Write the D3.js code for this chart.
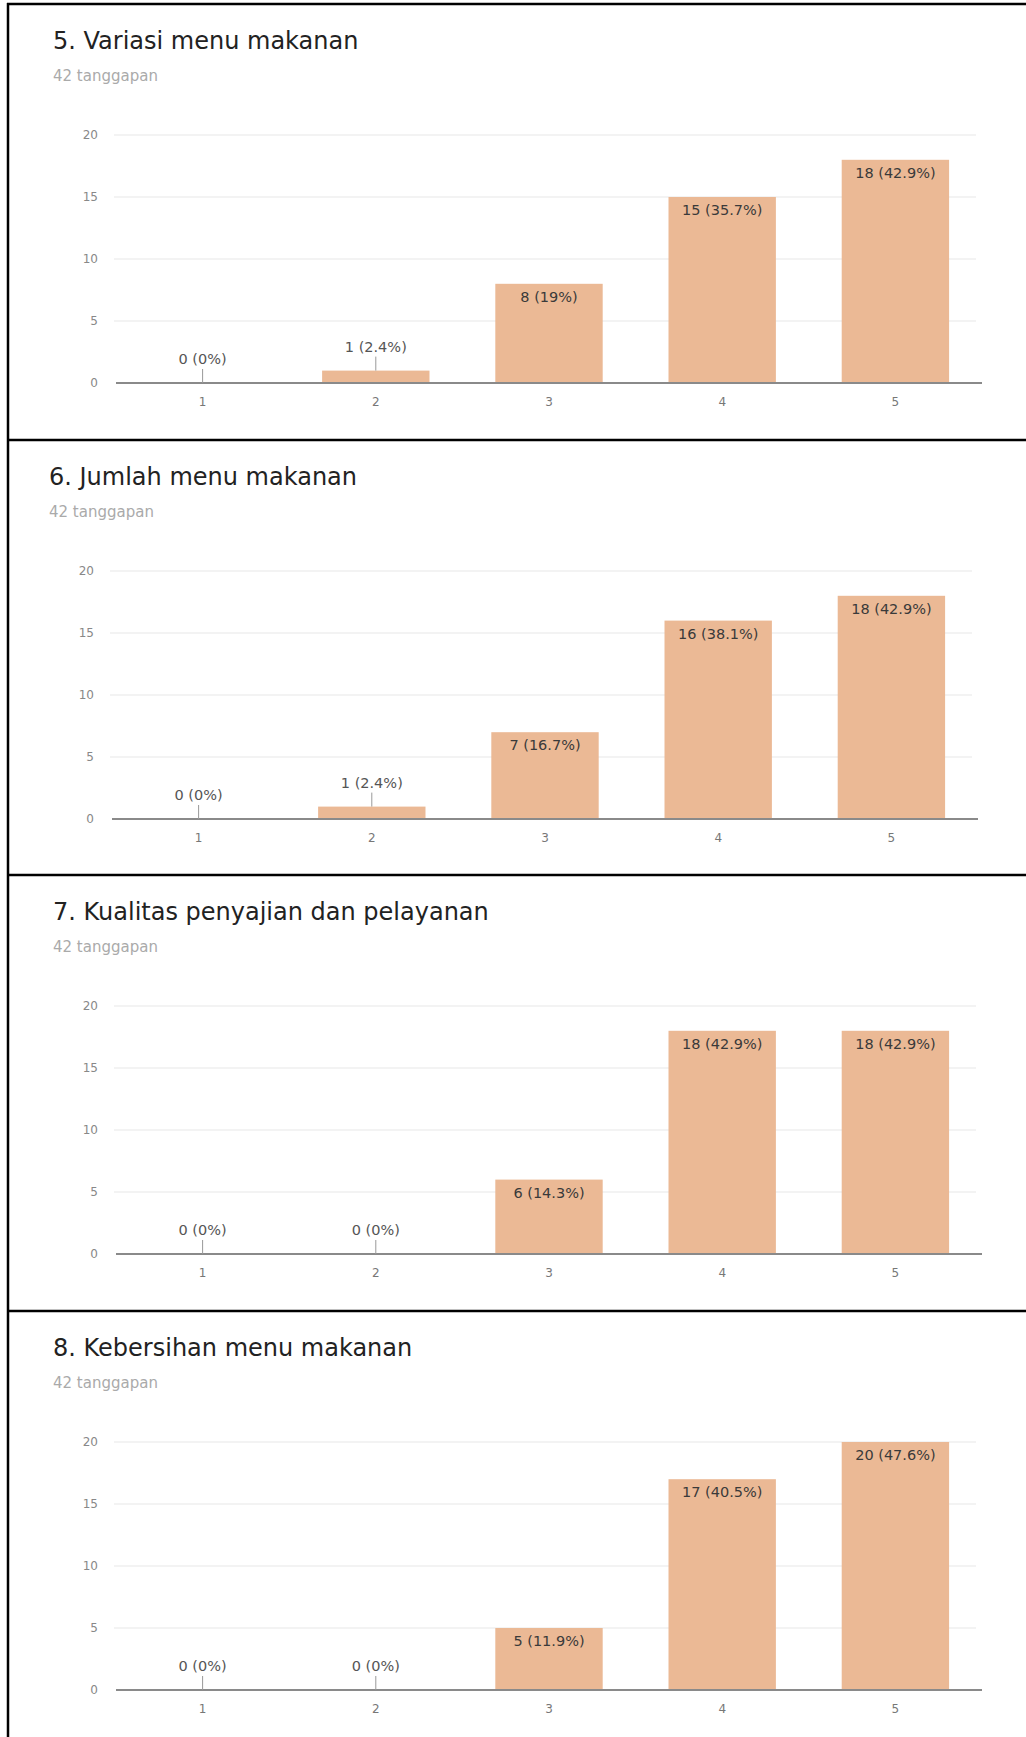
<!DOCTYPE html>
<html>
<head>
<meta charset="utf-8">
<script src="https://cdn.jsdelivr.net/npm/d3@7/dist/d3.min.js"></script>
<style>
  html, body { margin: 0; padding: 0; background: #fff; }
  svg { display: block; }
</style>
</head>
<body>
<svg id="chart" width="1026" height="1737"></svg>
<script>
// Survey questions, one bar chart per question
const questions = [
  "5. Variasi menu makanan",
  "6. Jumlah menu makanan",
  "7. Kualitas penyajian dan pelayanan",
  "8. Kebersihan menu makanan"
];
const responseCount = 42;
const responseLabel = "42 tanggapan";
const categories = ["1", "2", "3", "4", "5"];
const valuesQ5 = [0, 1, 8, 15, 18];
const valuesQ6 = [0, 1, 7, 16, 18];
const valuesQ7 = [0, 0, 6, 18, 18];
const valuesQ8 = [0, 0, 5, 17, 20];
const yTicks = [0, 5, 10, 15, 20];

const seriesList = [valuesQ5, valuesQ6, valuesQ7, valuesQ8];

const svg = d3.select("#chart");
const W = 1026, H = 1737;
const panelTops = [4, 440, 875, 1311];
const xRanges = [[116, 982], [112, 978], [116, 982], [116, 982]];
const barColor = "#ebb995";
const fontFamily = "'DejaVu Sans', sans-serif";

const pct = v => {
  const s = d3.format(".1f")(v / responseCount * 100);
  return (s.endsWith(".0") ? s.slice(0, -2) : s) + "%";
};

// outer frame
svg.append("line").attr("x1", 8).attr("x2", 8).attr("y1", 3).attr("y2", H)
  .attr("stroke", "#000").attr("stroke-width", 2.5);

seriesList.forEach((values, i) => {
  const T = panelTops[i];
  const g = svg.append("g");

  // separator line at the top of each panel
  g.append("line").attr("x1", 7).attr("x2", W).attr("y1", T).attr("y2", T)
    .attr("stroke", "#000").attr("stroke-width", 2.5);

  g.append("text")
    .attr("x", xRanges[i][0] - 63).attr("y", T + 45)
    .attr("font-family", fontFamily).attr("font-size", 24)
    .attr("fill", "#222")
    .text(questions[i]);

  g.append("text")
    .attr("x", xRanges[i][0] - 63).attr("y", T + 77)
    .attr("font-family", fontFamily).attr("font-size", 15)
    .attr("fill", "#aaa")
    .text(responseLabel);

  const x = d3.scaleBand().domain(categories).range(xRanges[i]).paddingInner(0.38).paddingOuter(0.19);
  const y = d3.scaleLinear().domain([0, 20]).range([T + 379, T + 131]);

  // horizontal gridlines
  g.append("g").selectAll("line").data(yTicks.filter(t => t > 0)).join("line")
    .attr("x1", xRanges[i][0] - 2).attr("x2", xRanges[i][1] - 6)
    .attr("y1", d => y(d)).attr("y2", d => y(d))
    .attr("stroke", "#efefef").attr("stroke-width", 1.5);

  // y axis labels
  const yAxis = d3.axisLeft(y).tickValues(yTicks).tickSize(0).tickPadding(0);
  const ya = g.append("g").attr("transform", `translate(${xRanges[i][0] - 18},0)`).call(yAxis);
  ya.select(".domain").remove();
  ya.selectAll("text").attr("font-family", fontFamily).attr("font-size", 12).attr("fill", "#888");

  // bars
  g.append("g").selectAll("rect").data(values).join("rect")
    .attr("x", (d, k) => x(categories[k]))
    .attr("width", x.bandwidth())
    .attr("y", d => y(d))
    .attr("height", d => y(0) - y(d))
    .attr("fill", barColor);

  // baseline
  g.append("line").attr("x1", xRanges[i][0]).attr("x2", xRanges[i][1])
    .attr("y1", y(0)).attr("y2", y(0))
    .attr("stroke", "#8a8a8a").attr("stroke-width", 2);

  // x axis labels
  const xAxis = d3.axisBottom(x).tickSize(0).tickPadding(14);
  const xa = g.append("g").attr("transform", `translate(0,${y(0)})`).call(xAxis);
  xa.select(".domain").remove();
  xa.selectAll("text").attr("font-family", fontFamily).attr("font-size", 12).attr("fill", "#777");

  // value annotations
  values.forEach((v, k) => {
    const cx = x(categories[k]) + x.bandwidth() / 2;
    const top = y(v);
    const label = `${v} (${pct(v)})`;
    if (y(0) - top > 28) {
      g.append("text").attr("x", cx).attr("y", top + 18)
        .attr("text-anchor", "middle")
        .attr("font-family", fontFamily).attr("font-size", 14.5)
        .attr("fill", "#3a3a3a").text(label);
    } else {
      g.append("line").attr("x1", cx).attr("x2", cx)
        .attr("y1", top - 14).attr("y2", top)
        .attr("stroke", "#999").attr("stroke-width", 1);
      g.append("text").attr("x", cx).attr("y", top - 19)
        .attr("text-anchor", "middle")
        .attr("font-family", fontFamily).attr("font-size", 14.5)
        .attr("fill", "#555").text(label);
    }
  });
});
</script>
</body>
</html>
